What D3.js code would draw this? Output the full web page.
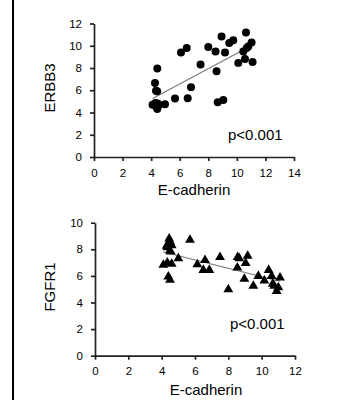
<!DOCTYPE html>
<html>
<head>
<meta charset="utf-8">
<script src="https://cdn.jsdelivr.net/npm/d3@7"></script>
<style>
  html, body { margin: 0; padding: 0; background: #fff; }
  svg { display: block; }
  text { font-family: "Liberation Sans", Arial, sans-serif; fill: #000; }
</style>
</head>
<body>
<svg id="chart" width="350" height="400"></svg>
<script>
// ---- Data ----
// Top panel: E-cadherin vs ERBB3
const erbbEcad = [8.93, 10.64, 9.75, 9.47, 11.03, 10.8, 10.69, 10.45, 8.0, 8.51, 9.17, 6.49, 6.09,
  10.57, 10.1, 11.1, 7.46, 4.43, 8.58, 4.27, 6.79, 4.34, 4.42, 5.67, 6.56, 9.05, 8.66, 4.97,
  4.1, 4.3, 4.45, 4.55, 4.35, 4.5, 4.43];
const erbbVals = [10.83, 11.2, 10.5, 10.24, 10.3, 9.94, 9.79, 9.49, 9.88, 9.49, 9.4, 9.79, 9.4,
  8.8, 8.46, 8.53, 8.32, 7.95, 7.7, 6.65, 6.28, 5.95, 5.9, 5.25, 5.28, 5.13, 4.92, 4.74,
  4.7, 4.85, 4.8, 4.7, 4.55, 4.6, 4.32];

// Bottom panel: E-cadherin vs FGFR1
const fgfrEcad = [4.45, 4.5, 4.4, 4.55, 4.3, 4.6, 4.35, 4.54, 4.5, 5.7, 5.0, 4.1, 4.34, 4.6,
  4.4, 4.5, 6.14, 6.6, 6.5, 6.86, 7.5, 8.0, 8.56, 8.66, 8.54, 9.16, 9.04, 8.96, 9.8, 9.5,
  10.42, 10.16, 10.6, 10.66, 10.76, 11.1, 11.0, 10.9];
const fgfrVals = [8.8, 8.6, 8.45, 8.35, 8.25, 8.3, 8.15, 7.82, 7.9, 8.7, 7.32, 6.82, 7.0, 6.9,
  5.94, 5.69, 6.87, 7.19, 6.44, 6.44, 7.4, 4.99, 7.4, 7.32, 6.62, 7.5, 6.95, 5.77, 5.99, 5.24,
  6.44, 5.64, 5.99, 5.39, 5.24, 5.86, 5.14, 4.86];

const topXTicks = [0, 2, 4, 6, 8, 10, 12, 14];
const topYTicks = [0, 2, 4, 6, 8, 10, 12];
const botXTicks = [0, 2, 4, 6, 8, 10, 12];
const botYTicks = [0, 2, 4, 6, 8, 10];
const xTitle = "E-cadherin";
const topYTitle = "ERBB3";
const botYTitle = "FGFR1";
const pLabel = "p<0.001";

// ---- Drawing ----
const svg = d3.select("#chart");

// left frame line
svg.append("line").attr("x1", 13).attr("x2", 13).attr("y1", 0).attr("y2", 400)
  .attr("stroke", "#000").attr("stroke-width", 2);

function linreg(xs, ys) {
  const n = xs.length;
  const mx = d3.mean(xs), my = d3.mean(ys);
  let sxy = 0, sxx = 0;
  for (let i = 0; i < n; i++) { sxy += (xs[i] - mx) * (ys[i] - my); sxx += (xs[i] - mx) ** 2; }
  const b = sxy / sxx;
  return { a: my - b * mx, b };
}

function panel(opt) {
  const x = d3.scaleLinear().domain([0, opt.xMax]).range(opt.xRange);
  const y = d3.scaleLinear().domain([0, opt.yMax]).range(opt.yRange);
  const g = svg.append("g");

  const xAxis = g.append("g").attr("transform", `translate(0,${opt.yRange[0]})`)
    .call(d3.axisBottom(x).tickValues(opt.xTicks).tickSize(4).tickPadding(opt.xPad).tickSizeOuter(0));
  const yAxis = g.append("g").attr("transform", `translate(${opt.xRange[0]},0)`)
    .call(d3.axisLeft(y).tickValues(opt.yTicks).tickSize(4).tickPadding(8).tickSizeOuter(0));
  [xAxis, yAxis].forEach(a => {
    a.selectAll("path, line").attr("stroke", "#222").attr("stroke-width", 1.7);
    a.selectAll("text").attr("font-size", 11.5).attr("fill", "#000")
      .style("font-family", '"Liberation Sans", Arial, sans-serif');
  });

  // regression line
  const r = linreg(opt.xs, opt.ys);
  const x0 = d3.min(opt.xs), x1 = d3.max(opt.xs);
  g.append("line")
    .attr("x1", x(x0)).attr("y1", y(r.a + r.b * x0))
    .attr("x2", x(x1)).attr("y2", y(r.a + r.b * x1))
    .attr("stroke", "#777").attr("stroke-width", 1.1);

  // points
  const sym = d3.symbol().type(opt.symbol).size(opt.symSize);
  g.selectAll("path.pt").data(opt.xs.map((v, i) => [v, opt.ys[i]])).join("path")
    .attr("class", "pt")
    .attr("d", sym)
    .attr("transform", d => `translate(${x(d[0])},${y(d[1])})`)
    .attr("fill", "#000");

  // titles
  g.append("text").attr("x", opt.xTitleX).attr("y", opt.xTitleY)
    .attr("text-anchor", "middle").attr("font-size", 15).text(xTitle);
  g.append("text").attr("transform", `translate(${opt.yTitleX},${opt.yTitleY}) rotate(-90)`)
    .attr("text-anchor", "middle").attr("font-size", 15).text(opt.yTitle);
  g.append("text").attr("x", opt.pX).attr("y", opt.pY)
    .attr("font-size", 15).text(pLabel);
}

panel({
  xs: erbbEcad, ys: erbbVals, xMax: 14, yMax: 12,
  xRange: [94, 294], yRange: [157, 23.5],
  xTicks: topXTicks, yTicks: topYTicks, xPad: 8,
  symbol: d3.symbolCircle, symSize: 50,
  yTitle: topYTitle, xTitleX: 194, xTitleY: 195, yTitleX: 55, yTitleY: 88,
  pX: 228, pY: 140
});

panel({
  xs: fgfrEcad, ys: fgfrVals, xMax: 12, yMax: 10,
  xRange: [95, 295], yRange: [355.7, 222.7],
  xTicks: botXTicks, yTicks: botYTicks, xPad: 7,
  symbol: d3.symbolTriangle, symSize: 42,
  yTitle: botYTitle, xTitleX: 206, xTitleY: 395, yTitleX: 55, yTitleY: 287,
  pX: 230, pY: 329
});
</script>
</body>
</html>
